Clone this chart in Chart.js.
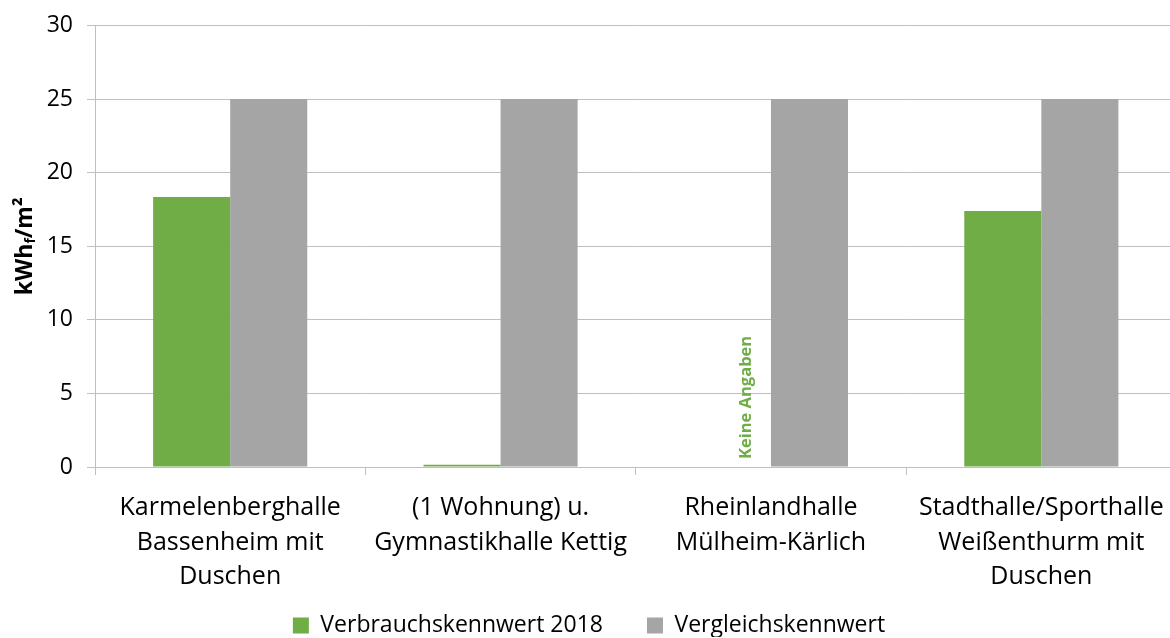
<!DOCTYPE html>
<html>
<head>
<meta charset="utf-8">
<script src="https://cdn.jsdelivr.net/npm/chart.js@4"></script>
<style>
  html, body { margin: 0; padding: 0; background: #fff; overflow: hidden; }
  #wrap { width: 1180px; height: 638px; }
</style>
</head>
<body>
<div id="wrap"><canvas id="chart"></canvas></div>
<script>
const categories = [
    ['Karmelenberghalle', 'Bassenheim mit', 'Duschen'],
    ['(1 Wohnung) u.', 'Gymnastikhalle Kettig'],
    ['Rheinlandhalle', 'Mülheim-Kärlich'],
    ['Stadthalle/Sporthalle', 'Weißenthurm mit', 'Duschen']
];
const verbrauch2018 = [18.35, 0.15, null, 17.4];
const vergleich = [25, 25, 25, 25];
const noDataText = 'Keine Angaben';

const GREEN = '#70ad47';
const GRAY = '#a5a5a5';
const FONT = '"Open Sans", sans-serif';

// y title with subscript f, and "Keine Angaben" where no value exists
const extras = {
    id: 'extras',
    afterDraw(chart) {
        const ctx = chart.ctx;
        const area = chart.chartArea;
        const x = chart.scales.x;
        const y = chart.scales.y;

        ctx.save();
        ctx.translate(25, (area.top + area.bottom) / 2);
        ctx.rotate(-Math.PI / 2);
        ctx.fillStyle = '#000';
        ctx.textBaseline = 'middle';
        const big = 'bold 23px ' + FONT;
        const small = 'bold 14px ' + FONT;
        ctx.font = big;
        const w1 = ctx.measureText('kWh').width;
        const w3 = ctx.measureText('/m²').width;
        ctx.font = small;
        const w2 = ctx.measureText('f').width;
        let sx = -(w1 + w2 + w3) / 2;
        ctx.font = big;
        ctx.fillText('kWh', sx, 0);
        sx += w1;
        ctx.font = small;
        ctx.fillText('f', sx, 6);
        sx += w2;
        ctx.font = big;
        ctx.fillText('/m²', sx, 0);
        ctx.restore();

        verbrauch2018.forEach((v, i) => {
            if (v !== null) return;
            const cx = x.getPixelForValue(i) - 25;
            ctx.save();
            ctx.translate(cx, y.getPixelForValue(0) - 8);
            ctx.rotate(-Math.PI / 2);
            ctx.fillStyle = GREEN;
            ctx.font = 'bold 16.5px ' + FONT;
            ctx.textAlign = 'left';
            ctx.textBaseline = 'middle';
            ctx.fillText(noDataText, 0, 0);
            ctx.restore();
        });
    }
};

// wide gap between legend items without a tall legend box
const legendFit = {
    id: 'legendFit',
    beforeInit(chart) {
        const fit = chart.legend.fit;
        chart.legend.fit = function () {
            fit.call(this);
            this.height = 42;
        };
    },
    afterLayout(chart) {
        const l = chart.legend;
        l.top = l.bottom - l.options.labels.padding - 23;
    }
};

new Chart(document.getElementById('chart'), {
    type: 'bar',
    data: {
        labels: categories,
        datasets: [{
            label: 'Verbrauchskennwert 2018',
            data: verbrauch2018,
            backgroundColor: GREEN
        }, {
            label: 'Vergleichskennwert',
            data: vergleich,
            backgroundColor: GRAY
        }]
    },
    options: {
        responsive: true,
        maintainAspectRatio: false,
        animation: false,
        layout: { padding: { top: 2, right: 2, left: 0, bottom: 1 } },
        datasets: { bar: { categoryPercentage: 0.57, barPercentage: 1 } },
        plugins: {
            legend: {
                position: 'bottom',
                labels: {
                    font: { family: FONT, size: 23 },
                    color: '#000',
                    boxWidth: 16,
                    boxHeight: 16,
                    padding: 44
                }
            },
            tooltip: { enabled: false }
        },
        scales: {
            x: {
                afterFit(scale) { scale.height = 128; },
                grid: {
                    offset: true,
                    drawOnChartArea: false,
                    color: '#bfbfbf',
                    tickLength: 8
                },
                border: { color: '#bfbfbf' },
                ticks: {
                    font: { family: FONT, size: 25, lineHeight: 1.38 },
                    color: '#000',
                    maxRotation: 0,
                    autoSkip: false,
                    padding: 16
                }
            },
            y: {
                min: 0,
                max: 30,
                afterFit(scale) { scale.width = 95; },
                grid: { color: '#bfbfbf', tickLength: 8 },
                border: { color: '#bfbfbf' },
                ticks: {
                    stepSize: 5,
                    font: { family: FONT, size: 23, lineHeight: 1 },
                    color: '#000',
                    padding: 14
                }
            }
        }
    },
    plugins: [extras, legendFit]
});
</script>
</body>
</html>
